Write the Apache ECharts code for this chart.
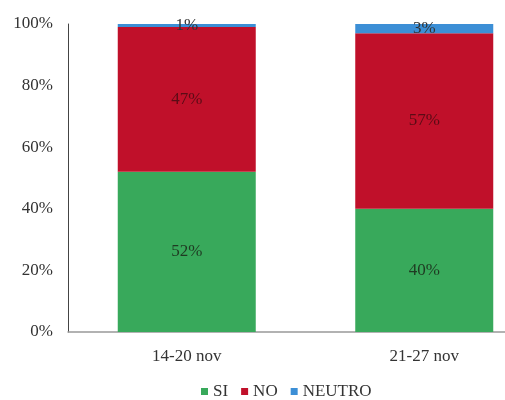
<!DOCTYPE html>
<html><head><meta charset="utf-8">
<script src="https://cdn.jsdelivr.net/npm/echarts@6/dist/echarts.min.js"></script>
<style>html,body{margin:0;padding:0;background:#fff;overflow:hidden;width:505px;height:400px}#c{width:543px;height:400px}</style>
</head><body><div id="c"></div>
<script>
const categories = ['14-20 nov', '21-27 nov'];
const si = [52, 40];
const no = [47, 57];
const neutro = [1, 3];
const yTicks = [0, 20, 40, 60, 80, 100];

const font = '"Liberation Serif", "Times New Roman", serif';
const chart = echarts.init(document.getElementById('c'));
function mk(name, data, color, labelColor) {
  return {
    name, type: 'bar', stack: 't', data, barWidth: 138,
    itemStyle: { color },
    label: { show: true, position: 'inside', formatter: '{c}%', fontFamily: font, fontSize: 17, color: labelColor }
  };
}
chart.setOption({
  animation: false,
  textStyle: { fontFamily: font },
  grid: { left: 68, right: 0, top: 24, bottom: 68, containLabel: false },
  legend: {
    data: ['SI', 'NO', 'NEUTRO'], left: 196, top: 378, itemWidth: 7, itemHeight: 7, itemGap: 13,
    icon: 'rect', textStyle: { fontFamily: font, fontSize: 17, color: '#333' }
  },
  xAxis: {
    type: 'category', data: categories,
    axisLine: { lineStyle: { color: '#999', width: 1.5 } }, axisTick: { show: false },
    axisLabel: { fontFamily: font, fontSize: 17, color: '#333', margin: 16 }
  },
  yAxis: {
    type: 'value', min: 0, max: 100, interval: 20,
    axisLine: { show: true, lineStyle: { color: '#444' } }, axisTick: { show: false },
    splitLine: { show: false },
    axisLabel: { fontFamily: font, fontSize: 17, color: '#333', margin: 15,
      formatter: v => yTicks.includes(v) ? v + '%' : '' }
  },
  series: [
    mk('SI', si, '#38a95b', '#1f3a22'),
    mk('NO', no, '#c0102a', '#5a0c16'),
    mk('NEUTRO', neutro, '#3c8fd6', '#333')
  ]
});
</script></body></html>
